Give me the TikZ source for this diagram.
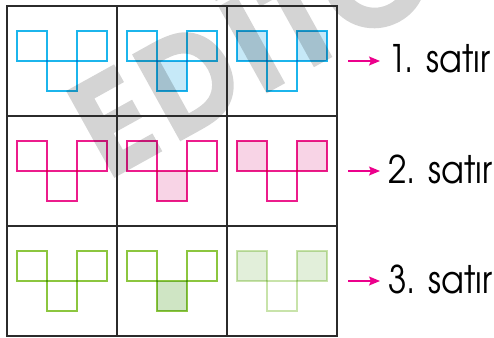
\documentclass[tikz,border=0pt]{standalone}
\usepackage{fontspec}
\usepackage{tikz}
\usepackage{xcolor}
\usetikzlibrary{arrows.meta, positioning, calc}
\newfontfamily\satirfont{texgyreadventor-regular.otf}[FakeStretch=0.88]
\newfontfamily\wmfont{texgyreadventor-bold.otf}[FakeBold=2.5, LetterSpace=6]
\definecolor{Grid_Line}{HTML}{2B2B2B}
\definecolor{Arrow_Pink}{HTML}{EC008C}
\definecolor{Wm_Gray}{HTML}{D4D4D4}
\definecolor{Cyan_Line}{HTML}{1CB5EC}
\definecolor{Cyan_Fill}{HTML}{C6E9F8}
\definecolor{Pink_Line}{HTML}{EC1C8C}
\definecolor{Pink_Fill}{HTML}{F8D4E6}
\definecolor{Green_Line}{HTML}{8CC63F}
\definecolor{Green_Fill}{HTML}{CFE5C4}
\definecolor{Green_Pale}{HTML}{C8E3AA}
\definecolor{Green_Pale_Fill}{HTML}{E2EFDA}
% one V shape: x, y of the cell, line colour, fill of left, bottom, right square
\newcommand{\vshape}[6]{%
  \path[fill=#4] ({#1+10},{#2+25}) rectangle ++(30,30);
  \path[fill=#5] ({#1+40},{#2+55}) rectangle ++(30,30);
  \path[fill=#6] ({#1+70},{#2+25}) rectangle ++(30,30);
  \draw[sq, #3] ({#1+10},{#2+25}) rectangle ++(30,30);
  \draw[sq, #3] ({#1+40},{#2+55}) rectangle ++(30,30);
  \draw[sq, #3] ({#1+70},{#2+25}) rectangle ++(30,30);
}

\begin{document}
\begin{tikzpicture}[x=1pt, y=-1pt,
  cell/.style={draw=Grid_Line, line width=1.6pt},
  sq/.style={line width=1.3pt},
  arr/.style={-{Stealth[length=11pt, width=9pt, inset=2pt]}, line width=1.3pt, draw=Arrow_Pink, fill=Arrow_Pink},
  satir/.style={anchor=west, inner xsep=8pt, inner ysep=0pt, font=\satirfont\fontsize{38}{40}\selectfont},
  wmtext/.style={anchor=base west, rotate=29, inner sep=0pt, text=Wm_Gray, font=\wmfont\fontsize{130}{130}\selectfont}]
\useasboundingbox (0,0) rectangle (494,337);
\fill[white] (0,0) rectangle (494,337);

% --- Watermark (underneath) ---
\begin{scope}
\clip (0,0) rectangle (494,337);
\node[wmtext] (wm) at (107,180) {EDİTÖR};
\end{scope}

% --- Grid of nine cells ---
\foreach \r in {0,1,2}
  \foreach \c in {0,1,2}
    \draw[cell] ({7+110*\c},{6+110*\r}) rectangle ++(110,110);

\begin{scope}[blend mode=multiply]
% --- Row 1: cyan ---
\vshape{7}{6}{Cyan_Line}{none}{none}{none}
\vshape{117}{6}{Cyan_Line}{none}{Cyan_Fill}{none}
\vshape{227}{6}{Cyan_Line}{Cyan_Fill}{none}{Cyan_Fill}
% --- Row 2: pink ---
\vshape{7}{116}{Pink_Line}{none}{none}{none}
\vshape{117}{116}{Pink_Line}{none}{Pink_Fill}{none}
\vshape{227}{116}{Pink_Line}{Pink_Fill}{none}{Pink_Fill}
% --- Row 3: green ---
\vshape{7}{226}{Green_Line}{none}{none}{none}
\vshape{117}{226}{Green_Line}{none}{Green_Fill}{none}
\vshape{227}{226}{Green_Pale}{Green_Pale_Fill}{none}{Green_Pale_Fill}
\end{scope}

% --- Row labels ---
\node[satir] (lbl1) at (380,59) {1. satır};
\node[satir] (lbl2) at (380,169) {2. satır};
\node[satir] (lbl3) at (380,279) {3. satır};
\coordinate (a1) at (348,61);
\coordinate (a2) at (348,171);
\coordinate (a3) at (348,281);
\draw[arr] (a1) -- (a1 -| lbl1.west);
\draw[arr] (a2) -- (a2 -| lbl2.west);
\draw[arr] (a3) -- (a3 -| lbl3.west);
\end{tikzpicture}
\end{document}
